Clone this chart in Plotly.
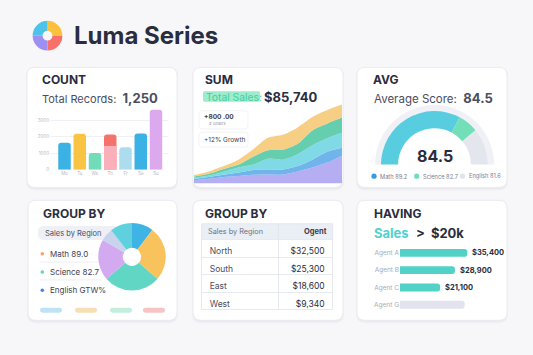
import plotly.graph_objects as go

W, H = 533, 355


def X(p):
    return p / W


def Y(p):
    return 1 - p / H


# ---------------- data ----------------
count_labels = ["Mo", "Tu", "We", "Th", "Fr", "Sa", "Su"]
count_values = [1640, 2180, 1020, 2140, 1360, 2200, 3640]
count_overlay = [None, None, None, 1440, None, None, None]
count_ticks = [0, 1000, 2000, 3000]

sum_x = list(range(11))
sum_purple = [3.3, 4.7, 6.5, 7.5, 8.7, 9.0, 9.0, 12.0, 16.0, 21.0, 28.0]
sum_blue = [1.4, 1.8, 2.2, 3.5, 4.8, 5.0, 5.0, 5.5, 8.0, 11.0, 8.0]
sum_cyan = [1.0, 1.5, 3.0, 5.0, 5.5, 11.0, 10.0, 12.0, 14.5, 13.5, 15.0]
sum_green = [1.3, 1.7, 2.8, 3.0, 8.0, 8.5, 10.0, 10.5, 15.0, 15.0, 15.5]
sum_yellow = [1.5, 2.3, 3.0, 5.0, 7.5, 12.5, 15.0, 16.5, 13.5, 13.5, 13.0]

gauge_value = "84.5"
gauge_arc = [0.328, 0.061, 0.111]
gauge_blank = 0.5
gauge_subjects = ["Math 89.2", "Science 82.7", "English 81.6"]

region_pie_labels = ["North", "East", "South", "West", "Central", "Other"]
region_pie_values = [10.3, 26.1, 27.2, 19.7, 6.1, 10.6]
group_items = ["Math 89.0", "Science 82.7", "English GTW%"]

table_header = ["Sales by Region", "Ogent"]
table_regions = ["North", "South", "East", "West"]
table_sales = [32500, 25300, 18600, 9340]

agents = ["Agent A", "Agent B", "Agent C", "Agent G"]
agent_sales = [35400, 28900, 21100, 34000]
agent_shown = [True, True, True, False]

FONT = "Inter"
DARK = "#2a2d3e"

fig = go.Figure()

# ---------- COUNT bar chart ----------
bar_colors = ["#3ab2e3", "#f9c344", "#72dcb9", "#f4746c",
              "rgba(160,214,236,0.85)", "#3ab2e3", "#dca8ee"]
idx = list(range(len(count_values)))
fig.add_trace(go.Bar(x=idx, y=count_values, marker=dict(color=bar_colors, line_width=0),
                     width=0.82, xaxis="x", yaxis="y", hoverinfo="skip"))
fig.add_trace(go.Bar(x=idx, y=count_overlay, marker=dict(color="rgba(249,184,198,0.88)", line_width=0),
                     width=0.82, xaxis="x", yaxis="y", hoverinfo="skip"))

# ---------- SUM stacked area ----------
layers = [
    (sum_purple, "rgba(168,160,240,0.85)"),
    (sum_blue, "rgba(88,166,232,0.85)"),
    (sum_cyan, "rgba(104,212,226,0.85)"),
    (sum_green, "rgba(74,198,160,0.85)"),
    (sum_yellow, "rgba(245,198,110,0.85)"),
]
for vals, col in layers:
    fig.add_trace(go.Scatter(x=sum_x, y=vals, stackgroup="one", mode="lines",
                             line=dict(width=0, shape="spline", smoothing=0.8),
                             fillcolor=col, xaxis="x2", yaxis="y2", hoverinfo="skip"))

# ---------- AVG gauge ----------
cx, cy, r = 434.5, 166, 54
ro = 60
fig.add_trace(go.Pie(values=[0.5, 0.5], sort=False, direction="clockwise", rotation=270,
                     hole=0.9, textinfo="none", hoverinfo="skip",
                     marker=dict(colors=["#f0f1f6", "rgba(0,0,0,0)"], line_width=0),
                     domain=dict(x=[X(cx - ro), X(cx + ro)], y=[Y(cy + ro), Y(cy - ro)])))
fig.add_trace(go.Pie(values=gauge_arc + [gauge_blank], sort=False, direction="clockwise", rotation=270,
                     hole=0.68, textinfo="none", hoverinfo="skip",
                     marker=dict(colors=["#58cde0", "#72dfb9", "#e4e6ee", "rgba(0,0,0,0)"], line_width=0),
                     domain=dict(x=[X(cx - r), X(cx + r)], y=[Y(cy + r), Y(cy - r)])))

# ---------- logo ----------
lx, ly, lr = 47.5, 36, 15
fig.add_trace(go.Pie(values=[1, 1, 1, 1], sort=False, direction="clockwise", rotation=0,
                     hole=0.33, textinfo="none", hoverinfo="skip",
                     marker=dict(colors=["#fbc13e", "#f7706a", "#9d90f2", "#4ec3ea"], line_width=0),
                     domain=dict(x=[X(lx - lr), X(lx + lr)], y=[Y(ly + lr), Y(ly - lr)])))

# ---------- GROUP BY pie ----------
px_, py_, pr = 132, 259, 34
fig.add_trace(go.Pie(labels=region_pie_labels, values=region_pie_values, sort=False,
                     direction="clockwise", rotation=0, hole=0.27, textinfo="none", hoverinfo="skip",
                     marker=dict(colors=["#3db3e6", "#f8c25c", "#62d6c4", "#d3a9ef", "#c8d4ec", "#5fd0dd"],
                                 line_width=0),
                     domain=dict(x=[X(px_ - pr), X(px_ + pr)], y=[Y(py_ + pr), Y(py_ - pr)])))

# ---------- GROUP BY table (body; header band drawn as a shape) ----------
tx0, tx1, th0, th1 = 201.7, 332.7, 225.7, 241.7
fig.add_trace(go.Table(
    domain=dict(x=[X(tx0), X(tx1)], y=[Y(th1 + 4 * 17.5 + 3), Y(th0)]),
    columnwidth=[77, 54],
    header=dict(values=["", ""], height=16, fill_color="rgba(0,0,0,0)", line_color="rgba(0,0,0,0)",
                font=dict(size=1, color="rgba(0,0,0,0)")),
    cells=dict(values=[table_regions, [f"${v:,}" for v in table_sales]], align=["left", "right"],
               height=17.5, fill_color="white", line_color="#e6e9ef",
               font=dict(size=8.5, color=["#4a4e5e", DARK], family=FONT)),
))

# ---------- HAVING bars ----------
agent_colors = ["#52d2c6" if s else "rgba(205,210,228,0.6)" for s in agent_shown]
fig.add_trace(go.Bar(y=agents, x=agent_sales, orientation="h", width=0.46,
                     marker=dict(color=agent_colors, line_width=0),
                     xaxis="x3", yaxis="y3", hoverinfo="skip"))

# ---------- shapes ----------
shapes = []


def rr_path(x0, y0, x1, y1, rad):
    return (f"M {X(x0 + rad)},{Y(y0)} L {X(x1 - rad)},{Y(y0)} Q {X(x1)},{Y(y0)} {X(x1)},{Y(y0 + rad)} "
            f"L {X(x1)},{Y(y1 - rad)} Q {X(x1)},{Y(y1)} {X(x1 - rad)},{Y(y1)} "
            f"L {X(x0 + rad)},{Y(y1)} Q {X(x0)},{Y(y1)} {X(x0)},{Y(y1 - rad)} "
            f"L {X(x0)},{Y(y0 + rad)} Q {X(x0)},{Y(y0)} {X(x0 + rad)},{Y(y0)} Z")


def rrect(x0, y0, x1, y1, rad, fill, line="rgba(0,0,0,0)", lw=0, layer="below"):
    shapes.append(dict(type="path", path=rr_path(x0, y0, x1, y1, rad), xref="paper", yref="paper",
                       fillcolor=fill, line=dict(color=line, width=lw), layer=layer))


cards = [(27, 68, 177, 189), (193, 68, 343, 189), (357, 68, 507, 189),
         (28, 202, 177, 323), (193, 202, 343, 323), (357, 202, 507, 323)]
for (a, b, c, d) in cards:
    rrect(a - 1, b, c + 1, d + 3, 9, "rgba(60,60,100,0.035)")
    rrect(a, b, c, d + 1.5, 8, "rgba(60,60,100,0.04)")
    rrect(a, b, c, d, 8, "#ffffff", "#ebecf1", 1)

# table header band
shapes.append(dict(type="rect", xref="paper", yref="paper", x0=X(tx0), x1=X(tx1), y0=Y(th1), y1=Y(th0),
                   fillcolor="#eaeef5", line=dict(color="#e3e7ee", width=1), layer="below"))
shapes.append(dict(type="line", xref="paper", yref="paper", x0=X(278.3), x1=X(278.3), y0=Y(th1), y1=Y(th0),
                   line=dict(color="#e0e4ec", width=1), layer="below"))

# SUM highlight + small boxes
rrect(203, 92, 260, 102.5, 1.5, "#9eecce")
rrect(199, 111.7, 248, 130, 3, "rgba(255,255,255,0.92)", "#eef0f4", 0.8, "above")
rrect(199, 133.3, 248, 148.3, 3, "rgba(255,255,255,0.92)", "#eef0f4", 0.8, "above")

# GROUP BY pill & separators & bottom blobs
rrect(38, 228, 118, 242, 6, "#eef0f6")
for sy in [264.3, 282.3]:
    shapes.append(dict(type="line", xref="paper", yref="paper", x0=X(40), x1=X(102), y0=Y(sy), y1=Y(sy),
                       line=dict(color="#eceef3", width=1), layer="below"))
for (a, c, col) in [(40, 62, "#bfe3f5"), (75, 97, "#f5dfb3"), (110, 132, "#c2eedd"), (143, 165, "#f7c4c4")]:
    rrect(a, 310.3, c, 315.3, 2.5, col)


# dots
def dot(x, y, rad, col):
    shapes.append(dict(type="circle", xref="paper", yref="paper", x0=X(x - rad), x1=X(x + rad),
                       y0=Y(y + rad), y1=Y(y - rad), fillcolor=col, line_width=0, layer="above"))


for (x, col) in [(374, "#3b9ae8"), (416.7, "#6fdfb8"), (462.5, "#e2e3ee")]:
    dot(x, 177.7, 2.6, col)
for (y, col) in [(256, "#f7a46a"), (274.3, "#5fd6c0"), (292.7, "#4a80e8")]:
    dot(42.3, y, 1.8, col)

# ---------- annotations ----------
anns = []


def ann(x, y, text, size, color=DARK, anchor="left", bold=False, xref="paper", yref="paper", **kw):
    t = f"<b>{text}</b>" if bold else text
    anns.append(dict(x=X(x) if xref == "paper" else x, y=Y(y) if yref == "paper" else y,
                     xref=xref, yref=yref, text=t, showarrow=False, xanchor=anchor, yanchor="middle",
                     font=dict(size=size, color=color, family=FONT), **kw))


ann(72, 35.5, "Luma Series", 24, bold=True)

ann(40, 80, "COUNT", 12, bold=True)
ann(40, 98.5, "Total Records:  <span style='font-size:13px'><b>1,250</b></span>", 11, color="#4a4e5e")

ann(202.5, 80, "SUM", 12, bold=True)
ann(203.5, 97.5, "Total Sales:", 10.3, color="#45cf9c")
ann(262, 97.5, "$85,740", 13, bold=True)
ann(201.5, 118, "+800 .00", 6.5, bold=True, color="#3a3d4e")
ann(207, 124.7, "# Orders", 4, color="#8a8e9e")
ann(201.5, 141, "+12% Growth", 6.5, color="#3a3d4e")

ann(371, 80, "AVG", 12, bold=True)
ann(371.5, 98.5, "Average Score:  <span style='font-size:13px'><b>84.5</b></span>", 11.5, color="#4a4e5e")
ann(435, 157, gauge_value, 16, bold=True, anchor="center")
for (x, t) in zip([378.3, 420.5, 466.5], gauge_subjects):
    ann(x, 178, t, 5.7, color="#7a7e8e")

ann(40.5, 215.5, "GROUP BY", 12, bold=True)
ann(42.5, 235, "Sales by Region", 7.5, color="#4a4e5e")
for (y, t) in zip([256, 274.3, 292.7], group_items):
    ann(47.5, y, t, 8, color="#3e4252")

ann(202.5, 215.5, "GROUP BY", 12, bold=True)
ann(206, (th0 + th1) / 2, table_header[0], 7.3, color="#6b7080")
ann(329, (th0 + th1) / 2, table_header[1], 7.5, color="#3a3d4e", bold=True, anchor="right")

ann(371.5, 215.5, "HAVING", 12, bold=True)
ann(371.5, 234.5, "<span style='color:#4fd2d2'><b>Sales</b></span>  <b>&gt;  $20k</b>", 13)
for a, s, show in zip(agents, agent_sales, agent_shown):
    if show:
        ann(s, a, f"${s:,}", 7.5, color=DARK, bold=True, xref="x3", yref="y3", xshift=3)

fig.update_layout(
    width=W, height=H, margin=dict(l=0, r=0, t=0, b=0),
    paper_bgcolor="#f7f7f9", plot_bgcolor="rgba(0,0,0,0)",
    showlegend=False, barmode="overlay", barcornerradius=3,
    font=dict(family=FONT),
    shapes=shapes, annotations=anns,
    xaxis=dict(domain=[X(50), X(168)], range=[-0.951, 6.787], tickvals=idx, ticktext=count_labels,
               anchor="y", tickfont=dict(size=4.5, color="#b4b8c4"), showgrid=False, zeroline=False,
               showline=False, ticks="", fixedrange=True),
    yaxis=dict(domain=[Y(171.3), Y(109.5)], range=[0, 3707], tickvals=count_ticks, anchor="x",
               ticktext=[str(t) for t in count_ticks], tickfont=dict(size=4.5, color="#b4b8c4"),
               gridcolor="#eef0f4", gridwidth=0.8, zeroline=False, showline=False, ticks="", fixedrange=True),
    xaxis2=dict(domain=[X(194), X(342)], range=[0, 10], visible=False, anchor="y2", fixedrange=True),
    yaxis2=dict(domain=[Y(185), Y(104)], range=[0, 81], visible=False, anchor="x2", fixedrange=True),
    xaxis3=dict(domain=[X(400), X(470)], range=[0, 36800], visible=False, anchor="y3", fixedrange=True),
    yaxis3=dict(domain=[Y(316), Y(246.3)], range=[3.5, -0.5], type="category", anchor="x3",
                tickfont=dict(size=6.5, color="#a8acb8"), showgrid=False, zeroline=False,
                showline=False, ticks="", fixedrange=True),
)

fig.write_html("out.html", config={"displayModeBar": False},
               post_script="document.body.style.margin='0';document.body.style.background='#f7f7f9';")
